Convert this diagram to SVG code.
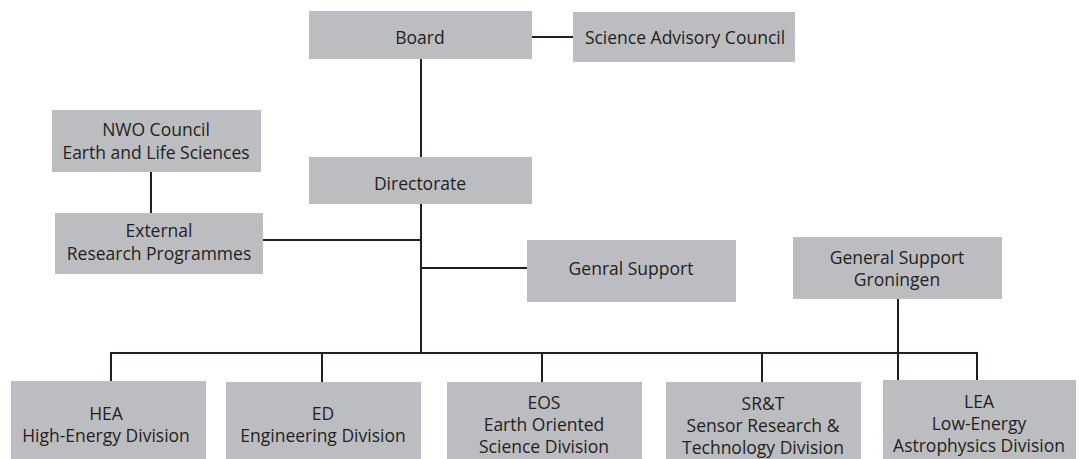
<svg xmlns="http://www.w3.org/2000/svg" width="1079" height="459" viewBox="0 0 1079 459">
  <style>
    .box { fill: #bcbdc0; }
    .lbl { font-family: "Open Sans", "Noto Sans", "DejaVu Sans", sans-serif; font-size: 17.5px; fill: #231f20; text-anchor: middle; }
    .wire { stroke: #231f20; stroke-width: 2; fill: none; }
  </style>
  <rect width="1079" height="459" fill="#ffffff"/>

  <!-- connectors -->
  <g id="connectors">
    <line class="wire" x1="532" y1="37" x2="573" y2="37"/>
    <line class="wire" x1="421" y1="59" x2="421" y2="157"/>
    <line class="wire" x1="151" y1="172" x2="151" y2="213"/>
    <line class="wire" x1="421" y1="204" x2="421" y2="353"/>
    <line class="wire" x1="263" y1="240" x2="421" y2="240"/>
    <line class="wire" x1="421" y1="268" x2="527" y2="268"/>
    <line class="wire" x1="898" y1="299" x2="898" y2="380"/>
    <polyline class="wire" points="111,381 111,353 977,353 977,380"/>
    <line class="wire" x1="322" y1="353" x2="322" y2="382"/>
    <line class="wire" x1="542" y1="353" x2="542" y2="382"/>
    <line class="wire" x1="762" y1="353" x2="762" y2="382"/>
  </g>

  <g id="board">
    <rect class="box" x="309" y="11" width="223" height="48"/>
    <text class="lbl" x="420" y="44">Board</text>
  </g>
  <g id="science-advisory-council">
    <rect class="box" x="573" y="12" width="222" height="50"/>
    <text class="lbl" x="685" y="44">Science Advisory Council</text>
  </g>
  <g id="nwo-council">
    <rect class="box" x="52" y="110" width="209" height="62"/>
    <text class="lbl" x="156" y="136">NWO Council</text>
    <text class="lbl" x="156" y="159">Earth and Life Sciences</text>
  </g>
  <g id="directorate">
    <rect class="box" x="309" y="157" width="223" height="47"/>
    <text class="lbl" x="420" y="190">Directorate</text>
  </g>
  <g id="external-research">
    <rect class="box" x="55" y="213" width="208" height="61"/>
    <text class="lbl" x="159" y="237">External</text>
    <text class="lbl" x="159" y="260">Research Programmes</text>
  </g>
  <g id="general-support">
    <rect class="box" x="527" y="240" width="209" height="62"/>
    <text class="lbl" x="631" y="275">Genral Support</text>
  </g>
  <g id="general-support-groningen">
    <rect class="box" x="793" y="237" width="209" height="62"/>
    <text class="lbl" x="897" y="264">General Support</text>
    <text class="lbl" x="897" y="286">Groningen</text>
  </g>
  <g id="hea">
    <rect class="box" x="11" y="381" width="195" height="78"/>
    <text class="lbl" x="106" y="420">HEA</text>
    <text class="lbl" x="106" y="442">High-Energy Division</text>
  </g>
  <g id="ed">
    <rect class="box" x="226" y="382" width="195" height="77"/>
    <text class="lbl" x="323" y="420">ED</text>
    <text class="lbl" x="323" y="442">Engineering Division</text>
  </g>
  <g id="eos">
    <rect class="box" x="447" y="382" width="195" height="77"/>
    <text class="lbl" x="544" y="409">EOS</text>
    <text class="lbl" x="544" y="431">Earth Oriented</text>
    <text class="lbl" x="544" y="453">Science Division</text>
  </g>
  <g id="srt">
    <rect class="box" x="666" y="382" width="195" height="77"/>
    <text class="lbl" x="763" y="410">SR&amp;T</text>
    <text class="lbl" x="763" y="432">Sensor Research &amp;</text>
    <text class="lbl" x="763" y="454">Technology Division</text>
  </g>
  <g id="lea">
    <rect class="box" x="883" y="380" width="193" height="79"/>
    <text class="lbl" x="979" y="408">LEA</text>
    <text class="lbl" x="979" y="430">Low-Energy</text>
    <text class="lbl" x="979" y="452">Astrophysics Division</text>
  </g>
</svg>
